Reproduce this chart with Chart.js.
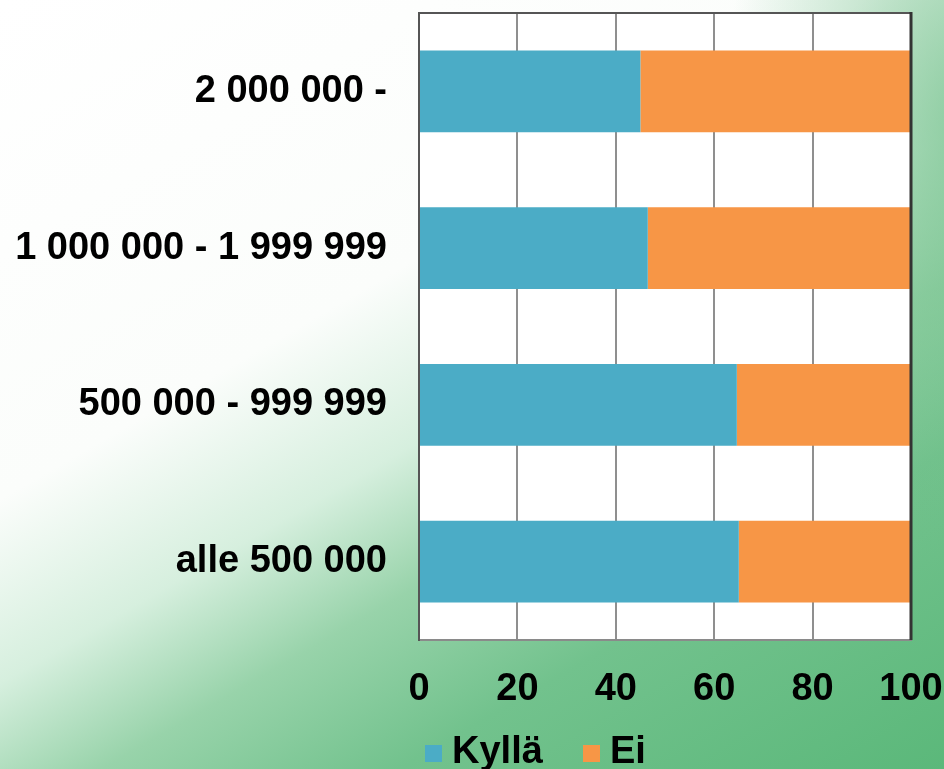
<!DOCTYPE html>
<html>
<head>
<meta charset="utf-8">
<script src="https://cdn.jsdelivr.net/npm/chart.js@4.4.0/dist/chart.umd.min.js"></script>
<style>
  html, body { margin: 0; padding: 0; }
  body {
    width: 944px; height: 769px; overflow: hidden;
    background:
      radial-gradient(ellipse 25% 60% at 102% 15%, rgba(110,190,135,0.7) 0%, rgba(110,190,135,0) 100%),
      linear-gradient(150deg, #ffffff 0%, #fbfdfb 38%, #d6efde 52%, #98d3aa 63%, #72c28d 76%, #5bb87a 100%);
  }
  #wrap { position: relative; width: 944px; height: 769px; }
</style>
</head>
<body>
<div id="wrap"><canvas id="grafico"></canvas></div>
<script>
const kategoriat = ['2 000 000 -', '1 000 000 - 1 999 999', '500 000 - 999 999', 'alle 500 000'];
const kylla = [45.0, 46.5, 64.6, 65.0];
const ei = [55.0, 53.5, 35.4, 35.0];
const xTicks = [0, 20, 40, 60, 80, 100];

const fontti = { family: '"Liberation Sans", Arial, sans-serif', weight: 'bold', size: 38 };

// valkoinen piirtoalue + yläreuna
const piirtoAlue = {
  id: 'piirtoAlue',
  beforeDraw(chart) {
    const { ctx, chartArea: a } = chart;
    ctx.save();
    ctx.fillStyle = '#ffffff';
    ctx.fillRect(a.left, a.top, a.right - a.left, a.bottom - a.top);
    ctx.restore();
  },
  afterDraw(chart) {
    const { ctx, chartArea: a } = chart;
    ctx.save();
    ctx.strokeStyle = '#555';
    ctx.lineWidth = 2;
    ctx.beginPath();
    ctx.moveTo(a.left, a.top);
    ctx.lineTo(a.right, a.top);
    ctx.stroke();
    ctx.strokeStyle = '#333';
    ctx.lineWidth = 3;
    ctx.beginPath();
    ctx.moveTo(a.right, a.top - 1);
    ctx.lineTo(a.right, a.bottom);
    ctx.stroke();
    ctx.restore();
  }
};

// selite alas
const selite = {
  id: 'selite',
  afterDraw(chart) {
    const { ctx } = chart;
    const paikat = [425, 583];
    ctx.save();
    ctx.font = 'bold 38px "Liberation Sans", Arial, sans-serif';
    ctx.textBaseline = 'alphabetic';
    ctx.textAlign = 'left';
    chart.data.datasets.forEach((ds, i) => {
      const x = paikat[i];
      ctx.fillStyle = ds.backgroundColor;
      ctx.fillRect(x, 745, 17, 17);
      ctx.fillStyle = '#000';
      ctx.fillText(ds.label, x + 27, 763);
    });
    ctx.restore();
  }
};

function nollaaReunat(s) {
  s.paddingTop = 0;
  s.paddingBottom = 0;
  s.paddingLeft = 0;
  s.paddingRight = 0;
}

new Chart(document.getElementById('grafico'), {
  type: 'bar',
  data: {
    labels: kategoriat,
    datasets: [
      { label: 'Kyllä', data: kylla, backgroundColor: '#4bacc6' },
      { label: 'Ei', data: ei, backgroundColor: '#f79646' }
    ]
  },
  options: {
    indexAxis: 'y',
    responsive: true,
    maintainAspectRatio: false,
    animation: false,
    layout: { padding: { top: 13, right: 33, bottom: 0, left: 0 } },
    datasets: { bar: { categoryPercentage: 1, barPercentage: 0.52 } },
    plugins: {
      legend: { display: false },
      tooltip: { enabled: false }
    },
    scales: {
      x: {
        stacked: true,
        min: 0,
        max: 100,
        afterBuildTicks: (s) => { s.ticks = xTicks.map(v => ({ value: v })); },
        afterFit: (s) => { s.height = 129; nollaaReunat(s); },
        grid: {
          drawTicks: false,
          lineWidth: 2,
          color: (c) => c.tick && c.tick.value === 100 ? 'rgba(0,0,0,0)' : '#8f8f8f'
        },
        border: { display: true, color: '#8a8a8a', width: 2 },
        ticks: { color: '#000', font: fontti, padding: 27, maxRotation: 0 }
      },
      y: {
        stacked: true,
        afterFit: (s) => { s.width = 419; nollaaReunat(s); },
        grid: { display: false, drawTicks: false },
        border: { display: true, color: '#555', width: 2 },
        ticks: { color: '#000', font: fontti, padding: 32 }
      }
    }
  },
  plugins: [piirtoAlue, selite]
});
</script>
</body>
</html>
